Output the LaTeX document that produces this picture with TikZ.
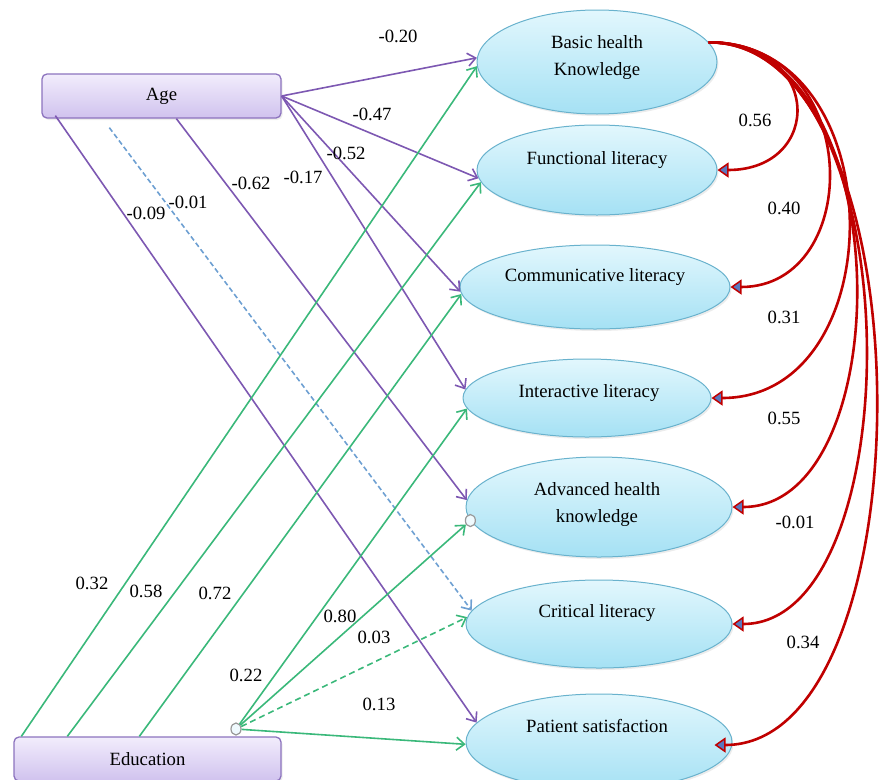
\documentclass[tikz,border=0pt]{standalone}
\usepackage{fontspec}
\setmainfont{Liberation Serif}
\usetikzlibrary{shapes.geometric,arrows.meta,shadows}

\definecolor{agepurple}{RGB}{125,88,178}
\definecolor{edugreen}{RGB}{58,184,122}
\definecolor{dashblue}{RGB}{110,160,210}
\definecolor{corred}{RGB}{192,0,0}
\definecolor{tipblue}{RGB}{90,120,190}
\definecolor{elltop}{RGB}{226,247,253}
\definecolor{ellbot}{RGB}{165,225,244}
\definecolor{ellline}{RGB}{105,178,205}
\definecolor{boxtop}{RGB}{242,237,252}
\definecolor{boxbot}{RGB}{208,194,238}
\definecolor{boxline}{RGB}{140,115,190}

\tikzset{
  latent/.style={ellipse, draw=ellline, line width=1pt, top color=elltop, bottom color=ellbot,
    inner sep=0pt, drop shadow={opacity=0.15, shadow xshift=1.5pt, shadow yshift=-2pt}},
  observed/.style={rectangle, rounded corners=5pt, draw=boxline, line width=1.3pt,
    top color=boxtop, bottom color=boxbot, minimum height=44pt,
    font=\fontsize{18.7}{22}\selectfont,
    drop shadow={opacity=0.15, shadow xshift=1.5pt, shadow yshift=-2pt}},
  txt/.style={font=\fontsize{18.7}{27}\selectfont, align=center, inner sep=0pt},
  coef/.style={font=\fontsize{18.7}{22}\selectfont, inner sep=0pt},
  fromage/.style={draw=agepurple, line width=1.6pt, -{Straight Barb[length=8pt,width=13pt]}},
  fromedu/.style={draw=edugreen, line width=1.6pt, -{Straight Barb[length=8pt,width=13pt]}},
  corr/.style={draw=corred, line width=2.6pt,
    -{Triangle[length=11pt,width=15pt,line width=1.5pt,fill=tipblue]}},
  port/.style={ellipse, draw=gray!80, fill=cyan!6, minimum width=10pt, minimum height=12pt,
    inner sep=0pt, line width=1.2pt}
}

\begin{document}
\begin{tikzpicture}[x=1pt,y=-1pt]

  \useasboundingbox (0,0) rectangle (882,779);
  \clip (0,0) rectangle (882,779);

  % outcomes
  \node[latent, minimum width=240pt, minimum height=104pt] (basic) at (597,62) {};
  \node[latent, minimum width=240pt, minimum height=90pt] (func) at (597,170) {};
  \node[latent, minimum width=270pt, minimum height=84pt] (comm) at (595,287) {};
  \node[latent, minimum width=248pt, minimum height=78pt] (inter) at (587,398) {};
  \node[latent, minimum width=266pt, minimum height=100pt] (adv) at (599,507) {};
  \node[latent, minimum width=266pt, minimum height=88pt] (crit) at (599,624) {};
  \node[latent, minimum width=266pt, minimum height=96pt] (pat) at (599,742) {};

  \node[txt] (basic-t) at (597,58) {Basic health\\Knowledge};
  \node[txt] (func-t) at (597,160) {Functional literacy};
  \node[txt] (comm-t) at (595,277) {Communicative literacy};
  \node[txt] (inter-t) at (589,393) {Interactive literacy};
  \node[txt] (adv-t) at (597,505) {Advanced health\\knowledge};
  \node[txt] (crit-t) at (597,613) {Critical literacy};
  \node[txt] (pat-t) at (597,726) {Patient satisfaction};

  % predictors
  \node[observed, minimum width=239pt] (age) at (161.5,96) {Age};
  \node[observed, minimum width=267pt] (edu) at (147.5,759) {Education};

  \node[port] (eduport) at (236,729) {};
  \node[port] (advport) at (adv.186) {};

  % paths from Age
  \draw[fromage] (age.east) -- (basic.178);
  \draw[fromage] (age.east) -- (func.184);
  \draw[fromage] (age.east) -- (comm.182);
  \draw[fromage] (age.east) -- (inter.176);
  \draw[fromage] ([xshift=135pt]age.south west) -- (adv.177);
  \draw[fromage, draw=dashblue, dash pattern=on 5pt off 3pt] ([xshift=68pt,yshift=-9pt]age.south west) -- (crit.174);
  \draw[fromage] ([xshift=14pt,yshift=3pt]age.south west) -- (pat.171);

  % paths from Education
  \draw[fromedu] ([xshift=8pt]edu.north west) -- (basic.182);
  \draw[fromedu] ([xshift=54pt]edu.north west) -- (func.186);
  \draw[fromedu] ([xshift=126pt]edu.north west) -- (comm.183);
  \draw[fromedu] (eduport) -- (inter.185);
  \draw[fromedu] (eduport) -- (advport);
  \draw[fromedu, dash pattern=on 6pt off 4pt] (eduport) -- (crit.177);
  \draw[fromedu] (eduport) -- (pat.181);

  % correlations
  \draw[corr] (basic.10) .. controls +(115,0) and +(106,0) .. (func.east);
  \draw[corr] (basic.10) .. controls +(156,0) and +(134,0) .. (comm.east);
  \draw[corr] (basic.10) .. controls +(186,0) and +(183,0) .. (inter.east);
  \draw[corr] (basic.10) .. controls +(192,0) and +(168,0) .. (adv.east);
  \draw[corr] (basic.10) .. controls +(205,0) and +(181,0) .. (crit.east);
  \draw[corr] (basic.10) .. controls +(222,0) and +(216,0) .. ([xshift=-18pt,yshift=-3pt]pat.east);

  % coefficients
  \node[coef] (c-ab) at (398,36) {-0.20};
  \node[coef] (c-af) at (372,114) {-0.47};
  \node[coef] (c-ac) at (346,153) {-0.52};
  \node[coef] (c-ai) at (303,177) {-0.17};
  \node[coef] (c-aa) at (251,183) {-0.62};
  \node[coef] (c-ak) at (188,202) {-0.01};
  \node[coef] (c-ap) at (146,213) {-0.09};

  \node[coef] (c-eb) at (92,583) {0.32};
  \node[coef] (c-ef) at (146,591) {0.58};
  \node[coef] (c-ec) at (215,593) {0.72};
  \node[coef] (c-ei) at (246,675) {0.22};
  \node[coef] (c-ea) at (340,616) {0.80};
  \node[coef] (c-ek) at (374,637) {0.03};
  \node[coef] (c-ep) at (379,704) {0.13};

  \node[coef] (r-f) at (755,120) {0.56};
  \node[coef] (r-c) at (784,208) {0.40};
  \node[coef] (r-i) at (784,317) {0.31};
  \node[coef] (r-a) at (784,418) {0.55};
  \node[coef] (r-k) at (795,522) {-0.01};
  \node[coef] (r-p) at (803,642) {0.34};

\end{tikzpicture}
\end{document}
